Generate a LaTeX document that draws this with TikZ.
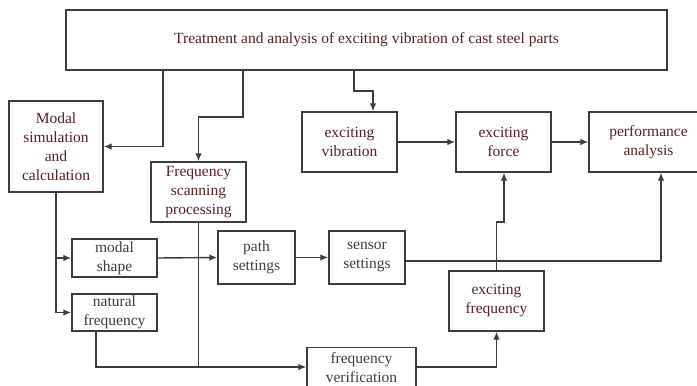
\documentclass[tikz,border=0pt]{standalone}
\usepackage{fontspec}
\setmainfont{Liberation Serif}
\usetikzlibrary{arrows.meta}
\definecolor{maroon}{HTML}{5A1F22}
\definecolor{txtgray}{HTML}{3E3E3E}
\definecolor{linegray}{HTML}{3C3C3C}
\tikzset{
  box/.style={draw=linegray, line width=1.4pt, align=center, inner sep=0pt,
    font=\fontsize{15.5}{19}\selectfont},
  redtxt/.style={text=maroon},
  graytxt/.style={text=txtgray},
  conn/.style={draw=linegray, line width=1.4pt},
  arr/.style={conn, -{Latex[length=8pt,width=6.5pt]}},
}
\begin{document}
\begin{tikzpicture}[x=1pt,y=-1pt]
\useasboundingbox (0,0) rectangle (697,386);
\clip (0,0) rectangle (697,386);
\node[box,redtxt, minimum width=601pt, minimum height=60pt] (top) at (366.5,40) {Treatment and analysis of exciting vibration of cast steel parts};
\node[box,redtxt, minimum width=94pt, minimum height=91pt] (modalsim) at (56,146.5) {Modal\\simulation\\and\\calculation};
\node[box,redtxt, minimum width=95pt, minimum height=60pt] (freqscan) at (198.5,192) {Frequency\\scanning\\processing};
\node[box,redtxt, minimum width=95pt, minimum height=60pt] (excvib) at (349.5,142) {exciting\\vibration};
\node[box,redtxt, minimum width=95pt, minimum height=60pt] (excforce) at (503.5,142) {exciting\\force};
\node[box,redtxt, minimum width=119pt, minimum height=60pt] (perf) at (648.5,142) {performance\\analysis};
\node[box,graytxt, minimum width=85pt, minimum height=38pt] (modalshape) at (114.5,258) {modal\\shape};
\node[box,graytxt, minimum width=85pt, minimum height=37pt] (natfreq) at (114.5,312.5) {natural\\frequency};
\node[box,graytxt, minimum width=77pt, minimum height=53pt] (path) at (256.5,257.5) {path\\settings};
\node[box,graytxt, minimum width=76pt, minimum height=53pt] (sensor) at (367,257.5) {sensor\\settings};
\node[box,redtxt, minimum width=95pt, minimum height=60pt] (excfreq) at (496.5,301) {exciting\\frequency};
\node[box,graytxt, minimum width=109pt, minimum height=40pt] (freqver) at (361.5,367.5) {frequency\\verification};

\draw[arr] (top.south -| 163,0) |- (modalsim.east);
\draw[arr] (top.south -| 243,0) -- (243,117) -| (freqscan.north);
\draw[arr] (top.south -| 354,0) -- (354,91) -| (excvib.north -| 373,0);
\draw[arr] (excvib.east) -- (excforce.west);
\draw[arr] (excforce.east) -- (perf.west);
\draw[arr] (modalsim.south) |- (natfreq.west);
\draw[arr] (modalsim.south |- modalshape.west) -- (modalshape.west);
\draw[arr] (modalshape.east) -- (path.west);
\draw[arr] (path.east) -- (sensor.west);
\draw[conn] (freqscan.south) -- (freqscan.south |- 0,367);
\draw[arr] (natfreq.south -| 96,0) |- (freqver.west |- 0,367);
\draw[arr] (freqver.east |- 0,367) -| (excfreq.south);
\draw[arr] (excfreq.north) -- (excfreq.north |- 0,222) -- (504,222) -- (excforce.south -| 504,0);
\draw[arr] (sensor.east |- 0,261) -| (perf.south -| 661,0);
\end{tikzpicture}
\end{document}
